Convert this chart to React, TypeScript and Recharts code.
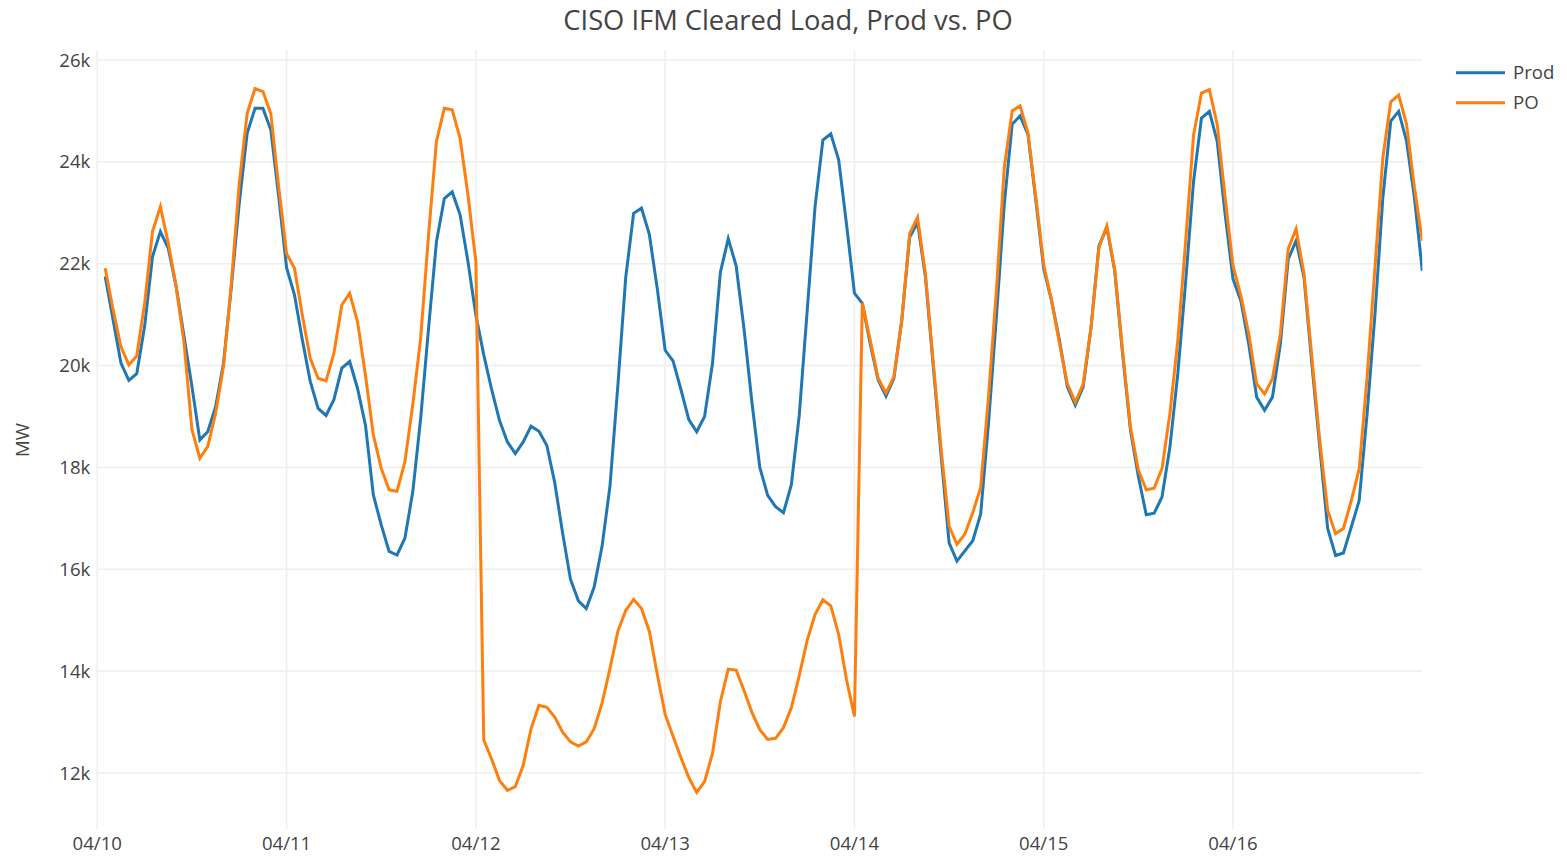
import React from 'react';
import { LineChart, Line, XAxis, YAxis, CartesianGrid, Legend } from 'recharts';

// Hour-ending index (1..168) from 04/10 00:00
const dayLabels = ['04/10', '04/11', '04/12', '04/13', '04/14', '04/15', '04/16'];
const dayTicks = [0, 24, 48, 72, 96, 120, 144];
const yTicks = [12000, 14000, 16000, 18000, 20000, 22000, 24000, 26000];

const prodValues = [
  21750, 20900, 20050, 19710, 19840, 20770, 22140, 22630, 22300, 21550, 20570, 19590,
  18540, 18700, 19190, 20040, 21550, 23190, 24560, 25050, 25050, 24630, 23320, 21920,
  21390, 20500, 19690, 19160, 19020, 19330, 19950, 20080, 19550, 18830, 17460, 16870,
  16350, 16280, 16610, 17520, 18960, 20730, 22430, 23280, 23410, 22960, 22040, 20990,
  20210, 19530, 18920, 18500, 18270, 18500, 18810, 18710, 18430, 17700, 16710, 15800,
  15380, 15230, 15650, 16450, 17630, 19600, 21730, 22990, 23090, 22570, 21510, 20300,
  20090, 19530, 18940, 18700, 19000, 20040, 21830, 22490, 21960, 20720, 19280, 18000,
  17450, 17230, 17110, 17660, 19020, 21060, 23110, 24430, 24550, 24040, 22770, 21420,
  21220, 20430, 19720, 19400, 19750, 20890, 22520, 22810, 21740, 19980, 18220, 16520,
  16160, 16360, 16560, 17080, 18870, 20960, 23170, 24740, 24900, 24540, 23240, 21900,
  21270, 20490, 19580, 19220, 19580, 20750, 22350, 22710, 21860, 20230, 18730, 17820,
  17070, 17100, 17420, 18400, 19840, 21660, 23620, 24860, 24990, 24400, 22970, 21700,
  21270, 20420, 19380, 19120, 19380, 20420, 22090, 22450, 21730, 20030, 18400, 16800,
  16270, 16320, 16830, 17350, 19050, 21010, 23300, 24800, 24990, 24410, 23300, 21860,
];

const poValues = [
  21910, 21100, 20370, 20010, 20190, 21220, 22630, 23120, 22400, 21550, 20440, 18740,
  18180, 18410, 19060, 19980, 21620, 23580, 24950, 25440, 25380, 24950, 23510, 22200,
  21910, 20990, 20140, 19750, 19700, 20240, 21190, 21420, 20860, 19810, 18640, 17980,
  17560, 17530, 18110, 19230, 20540, 22560, 24400, 25050, 25020, 24460, 23350, 22040,
  12650, 12270, 11850, 11660, 11730, 12150, 12870, 13330, 13290, 13100, 12800, 12610,
  12530, 12610, 12870, 13370, 14050, 14780, 15190, 15410, 15230, 14780, 13940, 13150,
  12720, 12300, 11910, 11620, 11830, 12380, 13400, 14040, 14020, 13620, 13190, 12850,
  12660, 12680, 12890, 13280, 13910, 14600, 15110, 15400, 15280, 14720, 13830, 13110,
  21230, 20500, 19750, 19460, 19780, 20890, 22590, 22910, 21800, 20040, 18350, 16850,
  16490, 16690, 17110, 17600, 19390, 21480, 23890, 25000, 25100, 24570, 23300, 21980,
  21270, 20430, 19640, 19280, 19640, 20750, 22320, 22740, 21890, 20290, 18790, 17950,
  17560, 17590, 17980, 19060, 20490, 22450, 24530, 25350, 25420, 24730, 23300, 21960,
  21370, 20620, 19640, 19440, 19740, 20620, 22290, 22680, 21800, 20160, 18530, 17160,
  16700, 16800, 17350, 17970, 19770, 21930, 24080, 25180, 25310, 24740, 23500, 22450,
];

const data = prodValues.map((v, i) => ({ h: i + 1, prod: v, po: poValues[i] }));

const FONT = '"Open Sans", verdana, arial, sans-serif';
const TEXT = '#444';
const PROD_COLOR = '#1f77b4';
const PO_COLOR = '#ff7f0e';

const LegendContent = () => (
  <svg width={117} height={70} style={{ display: 'block' }}>
    <line x1={6} y1={22.7} x2={55} y2={22.7} stroke={PROD_COLOR} strokeWidth={3} />
    <text x={63} y={29.3} fontSize={18.6} fill={TEXT} fontFamily={FONT}>Prod</text>
    <line x1={6} y1={52.7} x2={55} y2={52.7} stroke={PO_COLOR} strokeWidth={3} />
    <text x={63} y={59.3} fontSize={18.6} fill={TEXT} fontFamily={FONT}>PO</text>
  </svg>
);

export default function App() {
  return (
    <div style={{ position: 'absolute', left: 0, top: 0, width: 1567, height: 858, background: '#fff' }}>
      <LineChart
        width={1567}
        height={858}
        data={data}
        margin={{ top: 49.8, right: 144.7, bottom: 0, left: 7.3 }}
      >
        <CartesianGrid
          stroke="#eeeeee"
          strokeWidth={1.5}
          horizontalValues={yTicks}
          verticalValues={dayTicks}
        />
        <XAxis
          type="number"
          dataKey="h"
          domain={[0, 168]}
          ticks={dayTicks}
          tickFormatter={(v: number) => dayLabels[dayTicks.indexOf(v)] ?? ''}
          interval={0}
          height={29}
          axisLine={false}
          tickLine={false}
          tickSize={4}
          tickMargin={4}
          allowDataOverflow
          tick={{ fill: TEXT, fontSize: 18.6, fontFamily: FONT }}
        />
        <YAxis
          type="number"
          domain={[10900, 26200]}
          ticks={yTicks}
          tickFormatter={(v: number) => `${v / 1000}k`}
          interval={0}
          width={90}
          axisLine={false}
          tickLine={false}
          tickSize={6}
          tickMargin={1}
          allowDataOverflow
          tick={{ fill: TEXT, fontSize: 18.6, fontFamily: FONT }}
        />
        <Legend
          layout="horizontal"
          verticalAlign="middle"
          align="center"
          wrapperStyle={{ left: 1450, top: 50, width: 117, height: 70 }}
          content={() => <LegendContent />}
        />
        <Line
          type="linear"
          dataKey="prod"
          name="Prod"
          stroke={PROD_COLOR}
          strokeWidth={3}
          dot={false}
          activeDot={false}
          isAnimationActive={false}
        />
        <Line
          type="linear"
          dataKey="po"
          name="PO"
          stroke={PO_COLOR}
          strokeWidth={3}
          dot={false}
          activeDot={false}
          isAnimationActive={false}
        />
      </LineChart>
      <svg
        width={1567}
        height={858}
        style={{ position: 'absolute', left: 0, top: 0, pointerEvents: 'none' }}
      >
        <text x={788} y={30.3} textAnchor="middle" fontSize={27.3} fill={TEXT} fontFamily={FONT}>
          CISO IFM Cleared Load, Prod vs. PO
        </text>
        <text
          transform="translate(28.6,440) rotate(-90)"
          textAnchor="middle"
          fontSize={18.6}
          fill={TEXT}
          fontFamily={FONT}
        >
          MW
        </text>
      </svg>
    </div>
  );
}
